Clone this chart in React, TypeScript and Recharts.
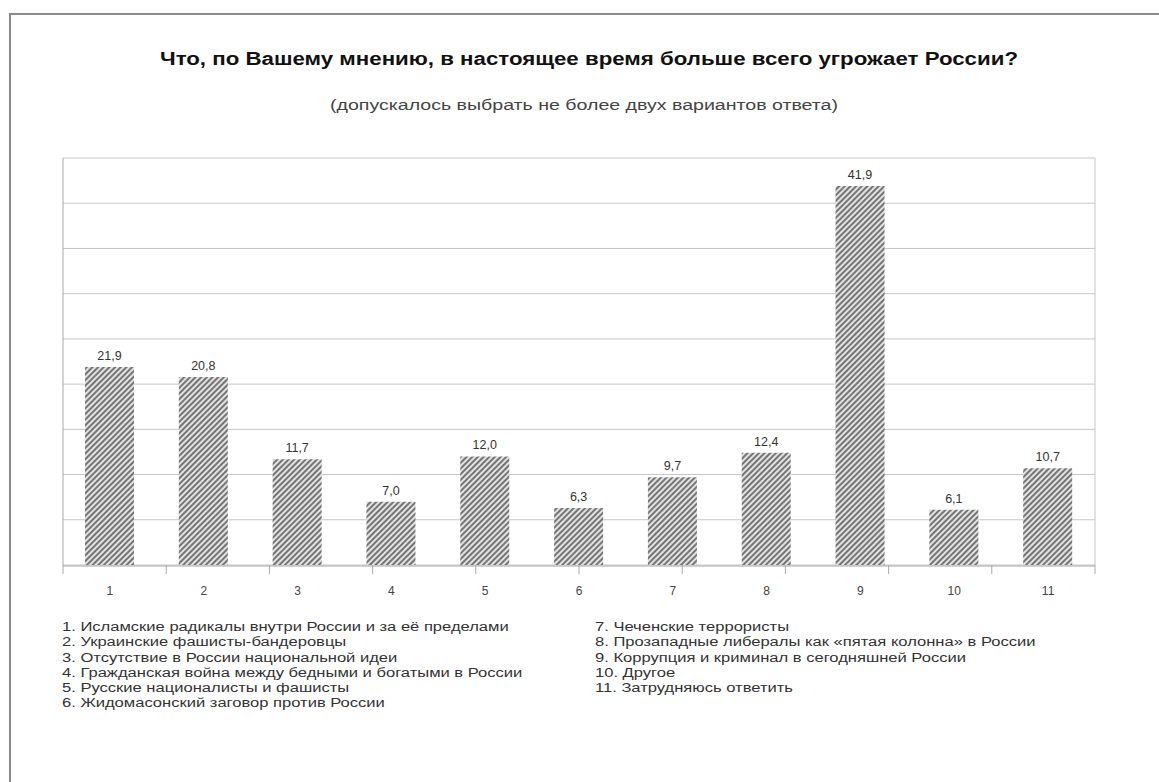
import { BarChart, Bar, XAxis, YAxis, CartesianGrid, LabelList } from "recharts";

const title = "Что, по Вашему мнению, в настоящее время больше всего угрожает России?";
const subtitle = "(допускалось выбрать не более двух вариантов ответа)";

const categories = ["1", "2", "3", "4", "5", "6", "7", "8", "9", "10", "11"];
const shares = [21.9, 20.8, 11.7, 7.0, 12.0, 6.3, 9.7, 12.4, 41.9, 6.1, 10.7];
const yTicks = [0, 5, 10, 15, 20, 25, 30, 35, 40, 45];
const boundaryTicks = [0, 1, 2, 3, 4, 5, 6, 7, 8, 9, 10, 11];

const legendLeft = [
  "1. Исламские радикалы внутри России и за её пределами",
  "2. Украинские фашисты-бандеровцы",
  "3. Отсутствие в России национальной идеи",
  "4. Гражданская война между бедными и богатыми в России",
  "5. Русские националисты  и фашисты",
  "6. Жидомасонский заговор против России",
];
const legendRight = [
  "7. Чеченские террористы",
  "8. Прозападные либералы как «пятая колонна» в России",
  "9. Коррупция и криминал в сегодняшней России",
  "10. Другое",
  "11. Затрудняюсь ответить",
];

const data = categories.map((name, i) => ({ name, value: shares[i] }));

const font = "'Liberation Sans', Arial, sans-serif";
const noTick = () => <g />;

export default function App() {
  return (
    <div style={{ position: "absolute", left: 0, top: 0, width: 1159, height: 782, background: "#fff", fontFamily: font }}>
      <BarChart
        width={1159}
        height={782}
        data={data}
        margin={{ top: 158, right: 63, bottom: 186, left: 62 }}
      >
        <defs>
          <pattern id="hatch" width="4" height="4" patternUnits="userSpaceOnUse" patternTransform="rotate(45)">
            <rect width="4" height="4" fill="#e2e2e2" />
            <line x1="1" y1="0" x2="1" y2="4" stroke="#3a3a3a" strokeWidth="1.3" />
          </pattern>
        </defs>
        <CartesianGrid vertical={false} stroke="#c6c6c6" />
        {/* boundary tick marks between categories */}
        <XAxis
          type="number"
          domain={[0, 11]}
          ticks={boundaryTicks}
          tick={noTick}
          tickSize={9}
          tickLine={{ stroke: "#aaaaaa" }}
          axisLine={false}
          height={1}
        />
        <XAxis
          xAxisId="labels"
          dataKey="name"
          axisLine={{ stroke: "#a8a8a8" }}
          tickLine={false}
          tick={{ fill: "#444", fontSize: 12, fontFamily: font }}
          tickMargin={14}
          height={30}
        />
        <YAxis
          domain={[0, 45]}
          ticks={yTicks}
          width={1}
          tick={noTick}
          tickLine={false}
          axisLine={{ stroke: "#a8a8a8" }}
        />
        <YAxis
          yAxisId="right"
          orientation="right"
          domain={[0, 45]}
          width={1}
          tick={noTick}
          tickLine={false}
          axisLine={{ stroke: "#c6c6c6" }}
        />
        <Bar xAxisId="labels" dataKey="value" fill="url(#hatch)" barSize={49} isAnimationActive={false}>
          <LabelList
            dataKey="value"
            position="top"
            offset={7}
            formatter={(v: number) => v.toFixed(1).replace(".", ",")}
            style={{ fill: "#333", fontSize: 12.5, fontFamily: font }}
          />
        </Bar>
      </BarChart>

      <svg width={1159} height={782} style={{ position: "absolute", left: 0, top: 0, pointerEvents: "none" }}>
        <line x1={9} y1={14} x2={1159} y2={14} stroke="#8a8a8a" strokeWidth={2} />
        <line x1={10} y1={13} x2={10} y2={782} stroke="#8a8a8a" strokeWidth={2} />
        <text x={160} y={65} fontSize={18} fontWeight="bold" fill="#111" fontFamily={font} textLength={858} lengthAdjust="spacingAndGlyphs">
          {title}
        </text>
        <text x={330} y={110} fontSize={14} fill="#444" fontFamily={font} textLength={508} lengthAdjust="spacingAndGlyphs">
          {subtitle}
        </text>
        <g transform="translate(62,0) scale(1.38,1)">
          {legendLeft.map((t, i) => (
            <text key={t} x={0} y={631 + i * 15.3} fontSize={12} fill="#333" fontFamily={font}>
              {t}
            </text>
          ))}
        </g>
        <g transform="translate(595,0) scale(1.38,1)">
          {legendRight.map((t, i) => (
            <text key={t} x={0} y={631 + i * 15.3} fontSize={12} fill="#333" fontFamily={font}>
              {t}
            </text>
          ))}
        </g>
      </svg>
    </div>
  );
}
